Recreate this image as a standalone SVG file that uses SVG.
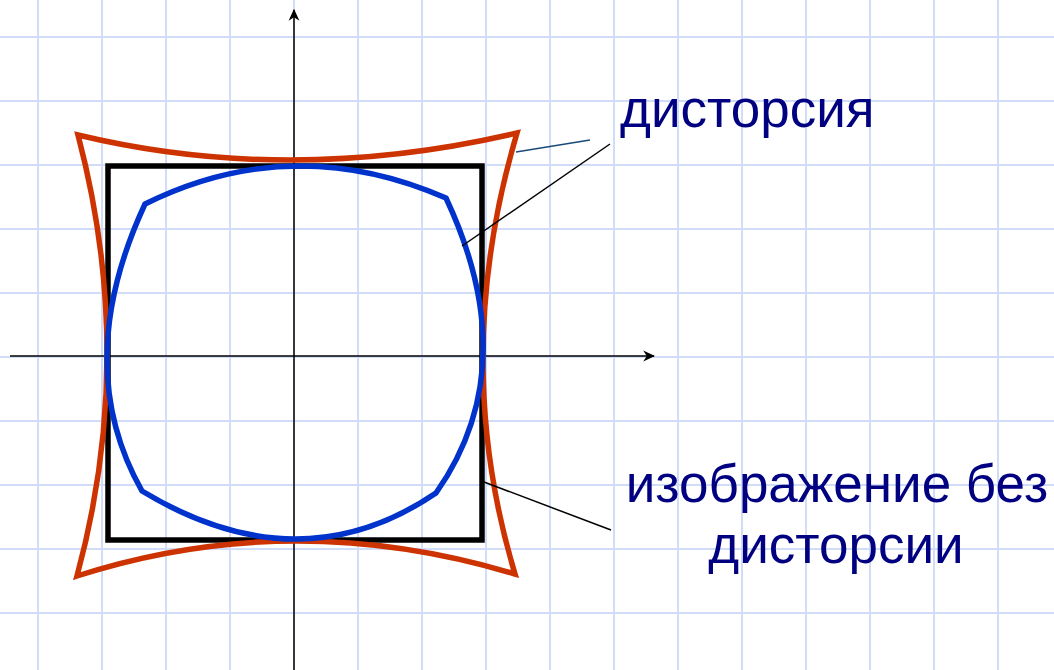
<svg xmlns="http://www.w3.org/2000/svg" width="1054" height="670" viewBox="0 0 1054 670">
<style>
.grid{stroke:#d0dcf8;stroke-width:2}
.axis{stroke:#000;stroke-width:1.5;fill:none}
.lbl{font-family:"Liberation Sans",Arial,sans-serif;font-size:53px;fill:#000080}
.lead{stroke:#000;stroke-width:1.5;fill:none}
</style>
<defs>
<marker id="arr" viewBox="0 0 10 10" refX="9" refY="5" markerWidth="12" markerHeight="12" orient="auto" markerUnits="userSpaceOnUse">
<path d="M0,0.5 L10,5 L0,9.5 L3,5 z" fill="#000"/>
</marker>
</defs>
<rect width="1054" height="670" fill="#fff"/>
<g id="grid" class="grid">
<line x1="38" y1="0" x2="38" y2="670"/><line x1="102" y1="0" x2="102" y2="670"/><line x1="166" y1="0" x2="166" y2="670"/><line x1="230" y1="0" x2="230" y2="670"/><line x1="294" y1="0" x2="294" y2="670"/><line x1="358" y1="0" x2="358" y2="670"/><line x1="422" y1="0" x2="422" y2="670"/><line x1="486" y1="0" x2="486" y2="670"/><line x1="550" y1="0" x2="550" y2="670"/><line x1="614" y1="0" x2="614" y2="670"/><line x1="678" y1="0" x2="678" y2="670"/><line x1="742" y1="0" x2="742" y2="670"/><line x1="806" y1="0" x2="806" y2="670"/><line x1="870" y1="0" x2="870" y2="670"/><line x1="934" y1="0" x2="934" y2="670"/><line x1="998" y1="0" x2="998" y2="670"/>
<line x1="0" y1="37" x2="1054" y2="37"/><line x1="0" y1="101" x2="1054" y2="101"/><line x1="0" y1="165" x2="1054" y2="165"/><line x1="0" y1="229" x2="1054" y2="229"/><line x1="0" y1="293" x2="1054" y2="293"/><line x1="0" y1="357" x2="1054" y2="357"/><line x1="0" y1="421" x2="1054" y2="421"/><line x1="0" y1="485" x2="1054" y2="485"/><line x1="0" y1="549" x2="1054" y2="549"/><line x1="0" y1="613" x2="1054" y2="613"/>
</g>
<g id="axes">
<line class="axis" x1="294" y1="670" x2="294" y2="10" marker-end="url(#arr)"/>
<line class="axis" x1="10" y1="356" x2="654" y2="356" marker-end="url(#arr)"/>
</g>
<g id="square"><rect x="108" y="166" width="374" height="374" fill="none" stroke="#000" stroke-width="5.5"/></g>
<g id="pincushion"><path d="M78,135 Q290.5,186 517,133 Q450,358.5 515,574 Q292,507 77,576 Q136.5,356.5 78,135 Z" fill="none" stroke="#cc3300" stroke-width="5.5"/></g>
<g id="barrel"><path d="M145,204 Q292.5,131 446,198 Q525,366.5 436,493 Q299,586 142,491 Q70.5,364.5 145,204 Z" fill="none" stroke="#0033cc" stroke-width="5.5"/></g>
<g id="connectors">
<line x1="516" y1="152" x2="590" y2="140" stroke="#1a4a7a" stroke-width="1.5"/>
<line class="lead" x1="462" y1="246" x2="610" y2="144"/>
<line class="lead" x1="484" y1="482" x2="611" y2="530"/>
</g>
<g id="label-distortion"><text class="lbl" x="620" y="127">дисторсия</text></g>
<g id="label-nodistortion">
<text class="lbl" x="837" y="502" text-anchor="middle">изображение без</text>
<text class="lbl" x="836" y="563" text-anchor="middle">дисторсии</text>
</g>
</svg>
